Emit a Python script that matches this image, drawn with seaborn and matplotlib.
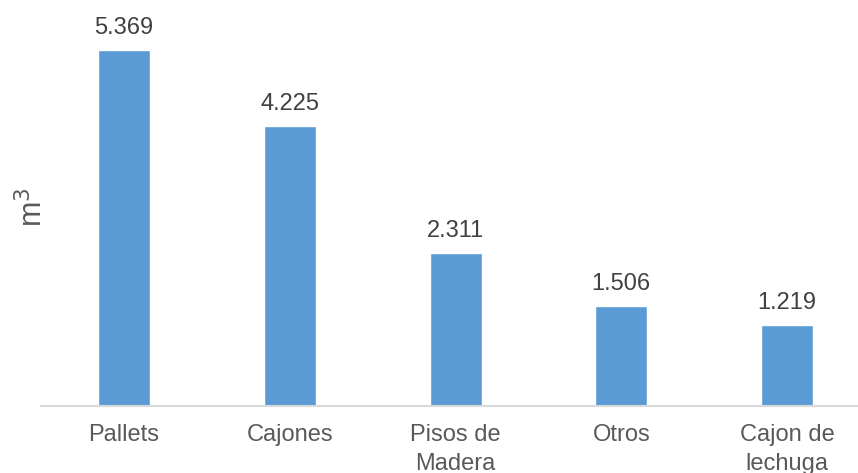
import matplotlib.pyplot as plt
import pandas as pd
import seaborn as sns

categorias = ['Pallets', 'Cajones', 'Pisos de\nMadera', 'Otros', 'Cajon de\nlechuga']
volumen = [5.369, 4.225, 2.311, 1.506, 1.219]
etiquetas = ['5.369', '4.225', '2.311', '1.506', '1.219']

df = pd.DataFrame({'categoria': categorias, 'volumen': volumen})

sns.set_style('white')
plt.rcParams['font.family'] = ['Liberation Sans', 'DejaVu Sans']

fig = plt.figure(figsize=(8.58, 4.73), dpi=100)
ax = fig.add_axes([0.048, 0.142, 0.952, 0.841])
sns.barplot(data=df, x='categoria', y='volumen', color='#5B9BD5', saturation=1,
            width=0.314, ax=ax)
ax.bar_label(ax.containers[0], labels=etiquetas, padding=8, fontsize=17, color='#404040')

ax.set_xlim(-0.5, 4.428)
ax.set_ylim(0, 6)
ax.set_yticks([])
ax.set_xlabel('')
ax.set_ylabel('m$^3$', fontsize=22, color='#595959', labelpad=-6)
ax.tick_params(axis='x', length=0, pad=13, labelsize=17, labelcolor='#595959')
for lbl in ax.get_xticklabels():
    lbl.set_linespacing(1.4)
for s in ['top', 'right', 'left']:
    ax.spines[s].set_visible(False)
ax.spines['bottom'].set_color('#D9D9D9')
ax.spines['bottom'].set_linewidth(1.5)

fig.savefig('out.png', dpi=100)
plt.close()
